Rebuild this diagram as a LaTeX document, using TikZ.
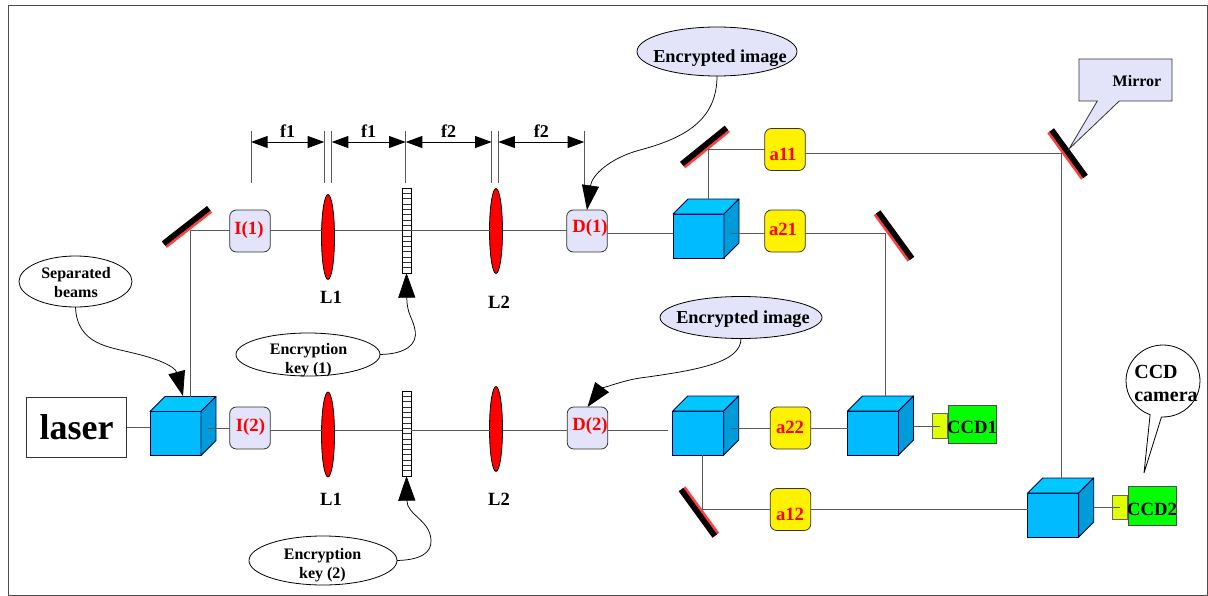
\documentclass[tikz,border=0pt]{standalone}
\usepackage{fontspec}
\setmainfont{Liberation Serif}
\usetikzlibrary{arrows.meta,calc,shapes.geometric,shapes.callouts}

\definecolor{boxlav}{HTML}{E3E3FA}
\definecolor{cubefront}{HTML}{00BBFF}
\definecolor{cubetop}{HTML}{00C8FF}
\definecolor{cubeside}{HTML}{009BD9}
\definecolor{mirrorred}{HTML}{FF4040}
\definecolor{camyellow}{HTML}{E0FF00}

\tikzset{
    beam/.style={draw=black!65,line width=0.7pt},
    dimline/.style={draw=black,line width=0.7pt,{Triangle[length=12.5pt,width=9pt]}-{Triangle[length=12.5pt,width=9pt]}},
    pointer/.style={draw=black,line width=0.55pt,-{Triangle[length=18.5pt,width=12.75pt]}},
    roundbox/.style={draw=black!80,line width=0.6pt,rounded corners=5pt,minimum width=30.5pt,minimum height=31.5pt,inner sep=0pt,outer sep=0pt},
    ibox/.style={roundbox,fill=boxlav},
    abox/.style={roundbox,fill=yellow},
    redtext/.style={text=red,inner sep=0pt,font=\bfseries\fontsize{14}{16}\selectfont},
    blacktext/.style={inner sep=0pt,align=center,font=\bfseries\fontsize{12}{14.25}\selectfont},
    bigtext/.style={inner sep=0pt,font=\bfseries\fontsize{14}{16}\selectfont},
    imagetext/.style={inner sep=0pt,font=\bfseries\fontsize{13.7}{16}\selectfont},
    lens/.style={ellipse,draw=black,line width=0.6pt,fill=red,minimum width=9.75pt,minimum height=63.75pt,inner sep=0pt,outer sep=0pt},
    keystrip/.style={draw=black,line width=0.6pt,fill=white,minimum width=6.75pt,minimum height=63.75pt,inner sep=0pt,outer sep=0pt,
        path picture={
            \foreach \k in {1,...,15}
                \draw[black!80,line width=0.45pt] ($(path picture bounding box.north west)!\k/16!(path picture bounding box.south west)$) -- ($(path picture bounding box.north east)!\k/16!(path picture bounding box.south east)$);
        }},
    mirrorback/.style={fill=mirrorred,minimum width=43pt,minimum height=6.2pt,inner sep=0pt,outer sep=0pt},
    mirrorfront/.style={fill=black,minimum width=43pt,minimum height=4.2pt,inner sep=0pt,outer sep=0pt},
    cubeface/.style={draw=black!75!blue,line width=0.6pt,fill=cubefront,minimum width=38.25pt,minimum height=33pt,inner sep=0pt,outer sep=0pt},
    cubeedge/.style={draw=black!75!blue,line width=0.6pt,line join=round},
    oval/.style={ellipse,draw=black,line width=0.6pt,inner sep=0pt,outer sep=0pt},
    camback/.style={draw=black!60,line width=0.6pt,fill=camyellow,minimum width=11.6pt,minimum height=18.5pt,inner sep=0pt,outer sep=0pt},
    camfront/.style={draw=black!70,line width=0.6pt,fill=green,minimum width=36pt,minimum height=29pt,inner sep=0pt,outer sep=0pt}
}

\begin{document}
\begin{tikzpicture}[x=0.75pt,y=-0.75pt]
        \useasboundingbox (0,0) rectangle (1208,596);

        % draw the frame
        \draw[draw=black!70,line width=0.7pt] (8,5) rectangle (1207,595);

        % draw the laser
        \node[draw=black!80,line width=0.6pt,minimum width=75.5pt,minimum height=44.5pt,inner sep=0pt,outer sep=0pt,font=\bfseries\fontsize{27}{30}\selectfont] (laser) at (76.5,427.5) {laser};

        % draw the cubes, the front is a node and the two other faces follow it
        \foreach \n/\x/\y in {cube0/175.5/433.5,cubea/698.5/236,cubeb/698.25/433,cubec/873/433,cubed/1053.25/515} {
                \node[cubeface] (\n) at (\x,\y) {};
                \draw[cubeedge,fill=cubetop] (\n.north west) -- ++(15,-15) -- ++(51,0) -- ++(-15,15) -- cycle;
                \draw[cubeedge,fill=cubeside] (\n.north east) -- ++(15,-15) -- ++(0,44) -- ++(-15,15) -- cycle;
                \coordinate (\n-top) at ($(\n.north)+(0,-15)$);
                \coordinate (\n-side) at ($(\n.east)+(7,0)$);
                \coordinate (\n-back) at ($(\n.east)+(15,0)$);
        }

        % draw the boxes with the red labels
        \foreach \n/\x/\y/\tx/\ty/\t in {
            i1/250/231/249/230/I(1),
            i2/250/428/250.5/427/I(2),
            d1/587/231/590/228.5/D(1),
            d2/587.5/428/590/426.5/D(2)} {
                \node[ibox] (\n) at (\x,\y) {};
                \node[redtext] (\n-text) at (\tx,\ty) {\t};
        }
        \foreach \n/\x/\y/\tx/\ty/\t in {
            a11/785/149.5/783/154/a11,
            a21/785/231/783/229/a21,
            a22/790.5/428/790/427/a22,
            a12/790.5/509.5/790/514/a12} {
                \node[abox] (\n) at (\x,\y) {};
                \node[redtext] (\n-text) at (\tx,\ty) {\t};
        }

        % draw the lenses and the two key strips
        \node[lens] (lensa) at (328,237) {};
        \node[lens] (lensb) at (496,231) {};
        \node[lens] (lensc) at (328,434.5) {};
        \node[lens] (lensd) at (496,429) {};
        \node[keystrip] (keya) at (406.5,230.5) {};
        \node[keystrip] (keyb) at (406.5,433.5) {};

        % draw the mirrors, the black part lies on the north side of the red one
        \foreach \n/\x/\y/\r in {mirrora/187/227/38,mirrorb/705/147/39,mirrorc/1067.5/154/-54,mirrord/894/236/-54,mirrore/699/512/126} {
                \node[mirrorback,rotate=\r] (\n) at (\x,\y) {};
                \node[mirrorfront,rotate=\r,anchor=north] (\n-front) at (\n.north) {};
        }

        % draw the cameras
        \node[camback] (cama) at (940,426) {};
        \node[camfront] (ccda) at (972,424.5) {};
        \node[bigtext] (ccda-text) at (972,427) {CCD1};
        \node[camback] (camb) at (1120,507.5) {};
        \node[camfront] (ccdb) at (1152,506) {};
        \node[bigtext] (ccdb-text) at (1152,509) {CCD2};

        % the turning points and the heights of the beams
        \coordinate (turna) at (190.5,230);
        \coordinate (turnb) at (708,149);
        \coordinate (turnc) at (1061,153);
        \coordinate (turnd) at (885.7,233);
        \coordinate (turne) at (702.5,509.5);
        \coordinate (rowa) at (0,230);
        \coordinate (rowb) at (0,430);
        \coordinate (rowc) at (0,233);
        \coordinate (rowd) at (0,142);
        \coordinate (gapb) at (668,430);

        % draw the beams
        \draw[beam] (laser.east) -- (cube0.west |- laser.east);
        \draw[beam] (turna |- cube0-top) -- (turna) -- (i1.west |- turna);
        \draw[beam] (cube0-side |- i2.west) -- (i2.west);
        \foreach \a/\b in {i1/lensa,lensa/keya,keya/lensb,lensb/d1}
                \draw[beam] (\a.east |- rowa) -- (\b.west |- rowa);
        \foreach \a/\b in {i2/lensc,lensc/keyb,keyb/lensd,lensd/d2}
                \draw[beam] (\a.east |- rowb) -- (\b.west |- rowb);
        \draw[beam] (d1.east |- rowc) -- (cubea.west |- rowc);
        \draw[beam] (d2.east |- rowb) -- (gapb);
        \draw[beam] (cubea-side |- rowc) -- (a21.west |- rowc);
        \draw[beam] (a21.east |- rowc) -- (turnd) -- (turnd |- cubec-top);
        \draw[beam] (turnb |- cubea-top) -- (turnb) -- (a11.west |- turnb);
        \draw[beam] (a11.east |- turnc) -- (turnc) -- (turnc |- cubed-top);
        \draw[beam] (cubeb-side |- a22.west) -- (a22.west);
        \draw[beam] (a22.east) -- (cubec.west |- a22.east);
        \draw[beam] (turne |- cubeb.south) -- (turne) -- (a12.west |- turne);
        \draw[beam] (a12.east |- turne) -- (cubed.west |- turne);
        \draw[beam] (cubec-back |- cama) -- (cama.center);
        \draw[beam] (cubed-back |- camb) -- (camb.center);

        % draw the distance marks
        \foreach \n/\x/\y in {a/251/183,b/324.3/183,c/331.7/183,d/405.7/183,e/491.7/183,f/498.3/183,g/584.3/190} {
                \coordinate (dim-\n-top) at (\x,131);
                \coordinate (dim-\n-end) at (\x,\y);
                \draw[beam] (dim-\n-top) -- (dim-\n-end);
        }
        \foreach \a/\b/\t in {a/b/f1,c/d/f1,d/e/f2,f/g/f2}
                \draw[dimline] (dim-\a-top |- rowd) -- (dim-\b-top |- rowd) node (dimtext-\a) [midway,above=3pt,inner sep=0pt,font=\bfseries\fontsize{13.5}{15}\selectfont] {\t};

        % the lens names
        \node[bigtext] (namea) at (331,297) {L1};
        \node[bigtext] (nameb) at (499,302) {L2};
        \node[bigtext] (namec) at (331,499) {L1};
        \node[bigtext] (named) at (499,499) {L2};

        % draw the ovals, the text sits apart as it nearly fills them
        \node[oval,fill=boxlav,minimum width=120pt,minimum height=36.75pt] (encrypta) at (717,51.5) {};
        \node[imagetext] (encrypta-text) at (720,58) {Encrypted image};
        \node[oval,fill=boxlav,minimum width=121.5pt,minimum height=31.5pt] (encryptb) at (741,317.5) {};
        \node[imagetext] (encryptb-text) at (743,319) {Encrypted image};
        \node[oval,fill=white,minimum width=84.75pt,minimum height=38.25pt] (separated) at (75.5,281.5) {};
        \node[blacktext] (separated-text) at (76,283) {Separated\\beams};
        \node[oval,fill=white,minimum width=108pt,minimum height=32.25pt] (keyovala) at (308,354.5) {};
        \node[blacktext] (keyovala-text) at (308.5,360.5) {Encryption\\key (1)};
        \node[oval,fill=white,minimum width=111pt,minimum height=36.75pt] (keyovalb) at (323,560.5) {};
        \node[blacktext] (keyovalb-text) at (322.5,565.5) {Encryption\\key (2)};

        % draw the two callouts
        \node[rectangle callout,draw=black!80,line width=0.6pt,fill=boxlav,minimum width=69.75pt,minimum height=31.5pt,inner sep=0pt,callout absolute pointer={(1069,149)},callout pointer width=16.5pt] (mirrornote) at (1125.5,80) {};
        \node[blacktext] (mirrornote-text) at (1137,81) {Mirror};
        \node[ellipse callout,draw=black,line width=0.6pt,fill=white,minimum width=55.5pt,minimum height=54pt,inner sep=0pt,callout absolute pointer={(1144,473)},callout pointer arc=18] (camnote) at (1163,381) {};
        \node[inner sep=0pt,align=left,font=\bfseries\fontsize{15}{17.25}\selectfont] (camnote-text) at (1166,383.5) {CCD\\camera};

        % draw the curved pointers
        \coordinate (septip) at (183,396);
        \draw[pointer] (separated.south) .. controls (77,345) and (110,347) .. (133,353) .. controls (155,358) and (175,366) .. (septip);
        \draw[pointer] (encrypta.south) .. controls (717,120) and (685,138) .. (640,150) .. controls (610,158) and (592,175) .. (d1.north);
        \draw[pointer] (encryptb.south) .. controls (741,362) and (700,370) .. (640,378) .. controls (620,381) and (600,390) .. (d2.north);
        \draw[pointer] (keyovala.east) .. controls (405,354) and (418,345) .. (415,330) .. controls (413,318) and (407,315) .. (keya.south);
        \draw[pointer] (keyovalb.east) .. controls (420,560) and (432,553) .. (431,540) .. controls (430,520) and (407,515) .. (keyb.south);
    \end{tikzpicture}
\end{document}
